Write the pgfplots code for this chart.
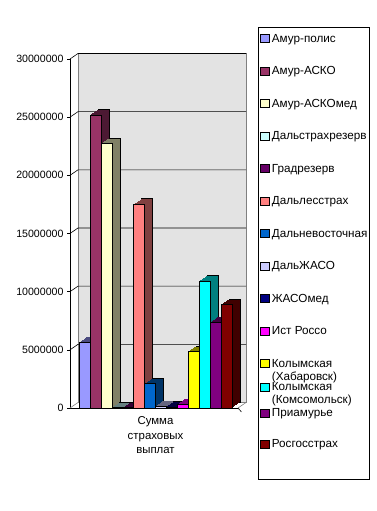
\documentclass[border=0pt]{standalone}
\usepackage{pgfplots}
\pgfplotsset{compat=1.18}
\usepackage{fontspec}
\setmainfont{Liberation Sans}
\definecolor{c1}{HTML}{9999FF}
\definecolor{c2}{HTML}{993366}
\definecolor{c3}{HTML}{FFFFCC}
\definecolor{c4}{HTML}{CCFFFF}
\definecolor{c5}{HTML}{660066}
\definecolor{c6}{HTML}{FF8080}
\definecolor{c7}{HTML}{0066CC}
\definecolor{c8}{HTML}{CCCCFF}
\definecolor{c9}{HTML}{000080}
\definecolor{c10}{HTML}{FF00FF}
\definecolor{c11}{HTML}{FFFF00}
\definecolor{c12}{HTML}{00FFFF}
\definecolor{c13}{HTML}{800080}
\definecolor{c14}{HTML}{800000}
\definecolor{wall}{HTML}{E3E3E3}
\pgfplotsset{
  sh/.style={forget plot, ybar, bar width=1, bar shift=0pt, fill=#1, draw=none},
}
% #1 x, #2 value, #3 colour, #4 legend text
\newcommand{\tdbar}[4]{%
  \addplot[sh=#3!50!black, draw=black, line width=0.4pt, xshift=8pt, yshift=5.5pt] coordinates {(#1,#2)};
  \addplot[sh=#3!50!black, xshift=7pt, yshift=4.8125pt] coordinates {(#1,#2)};
  \addplot[sh=#3!50!black, xshift=6pt, yshift=4.125pt] coordinates {(#1,#2)};
  \addplot[sh=#3!50!black, xshift=5pt, yshift=3.4375pt] coordinates {(#1,#2)};
  \addplot[sh=#3!50!black, xshift=4pt, yshift=2.75pt] coordinates {(#1,#2)};
  \addplot[sh=#3!50!black, xshift=3pt, yshift=2.0625pt] coordinates {(#1,#2)};
  \addplot[sh=#3!50!black, xshift=2pt, yshift=1.375pt] coordinates {(#1,#2)};
  \addplot[sh=#3!50!black, xshift=1pt, yshift=0.6875pt] coordinates {(#1,#2)};
  \addplot[ybar, bar width=1, bar shift=0pt, fill=#3, draw=black, line width=0.4pt] coordinates {(#1,#2)};
  \addlegendentry{#4}
}
\begin{document}
\begin{tikzpicture}
\useasboundingbox (0,0) rectangle (377pt,511pt);
\begin{axis}[
  at={(70pt,103pt)}, anchor=south west, scale only axis,
  width=168pt, height=349pt,
  xmin=-0.32, xmax=15.05, ymin=0, ymax=30000000,
  clip=false,
  axis lines*=left,
  axis line style={line width=0.6pt, black},
  scaled y ticks=false,
  ytick={0,5000000,10000000,15000000,20000000,25000000,30000000},
  yticklabels={0,5000000,10000000,15000000,20000000,25000000,30000000},
  y tick label style={font=\fontsize{10.6}{12}\selectfont},
  tick align=outside, major tick length=3pt,
  tick style={black, line width=0.6pt},
  xtick={7.5},
  xticklabels={{Сумма\\страховых\\выплат}},
  x tick style={draw=none},
  x tick label style={align=center, font=\fontsize{11.4}{14.5}\selectfont, yshift=-2.5pt},
  legend image code/.code={\draw[#1, draw=black, line width=0.5pt] (0pt,-0.2pt) rectangle (8.5pt,7.9pt);},
  legend style={at={(1.119,1.0917)}, anchor=north west, draw=black, line width=0.8pt,
    inner xsep=2pt, inner ysep=0pt, row sep=0pt,
    cells={anchor=base west},
    nodes={inner sep=0pt, text depth=, text height=, font=\fontsize{11.7}{13}\selectfont},
    /tikz/every odd column/.append style={column sep=2.5pt}},
]
% back wall
\filldraw[fill=wall, draw=gray, line width=0.6pt] ([shift={(8pt,5.5pt)}]axis cs:-0.32,0) rectangle ([shift={(8pt,5.5pt)}]axis cs:15.05,30000000);
\pgfplotsinvokeforeach{5000000,10000000,15000000,20000000,25000000,30000000}{
  \draw[black, line width=0.6pt] (axis cs:-0.32,#1) -- ++(8pt,5.5pt) -- ([shift={(8pt,5.5pt)}]axis cs:15.05,#1);
}
\draw[gray, line width=0.6pt] (axis cs:-0.32,0) -- ++(8pt,5.5pt);
\draw[gray, line width=0.6pt] (axis cs:15.05,0) -- ++(8pt,5.5pt);
\draw[black, line width=0.6pt] (axis cs:15.05,0) -- ++(0,-4pt);

\tdbar{1}{5650000}{c1}{\rule[-16.25pt]{0pt}{31.05pt}Амур-полис}
\tdbar{2}{25210000}{c2}{\rule[-16.25pt]{0pt}{32.5pt}Амур-АСКО}
\tdbar{3}{22750000}{c3}{\rule[-16.25pt]{0pt}{32.5pt}Амур-АСКОмед}
\tdbar{4}{40000}{c4}{\rule[-16.25pt]{0pt}{32.5pt}Дальстрахрезерв}
\tdbar{5}{50000}{c5}{\rule[-16.25pt]{0pt}{32.5pt}Градрезерв}
\tdbar{6}{17540000}{c6}{\rule[-16.25pt]{0pt}{32.5pt}Дальлесстрах}
\tdbar{7}{2120000}{c7}{\rule[-16.25pt]{0pt}{32.5pt}Дальневосточная}
\tdbar{8}{150000}{c8}{\rule[-16.25pt]{0pt}{32.5pt}ДальЖАСО}
\tdbar{9}{100000}{c9}{\rule[-16.25pt]{0pt}{32.5pt}ЖАСОмед}
\tdbar{10}{320000}{c10}{\rule[-16.25pt]{0pt}{32.5pt}Ист Россо}
\tdbar{11}{4870000}{c11}{\vtop{\hbox{\rule{0pt}{16.25pt}Колымская}\hbox{(Хабаровск)}}}
\tdbar{12}{10920000}{c12}{\vtop{\hbox{Колымская}\hbox{(Комсомольск)}}}
\tdbar{13}{7370000}{c13}{\rule[-23pt]{0pt}{33.6pt}Приамурье}
\tdbar{14}{8910000}{c14}{\rule[-31.2pt]{0pt}{39.2pt}Росгосстрах}
\end{axis}
\end{tikzpicture}
\end{document}
